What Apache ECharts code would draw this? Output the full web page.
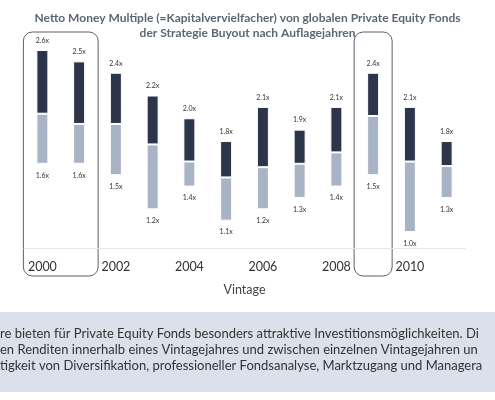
<!DOCTYPE html>
<html><head><meta charset="utf-8">
<script src="https://cdn.jsdelivr.net/npm/echarts@6/dist/echarts.min.js"></script>
<style>html,body{margin:0;padding:0;background:#fff}#main{width:495px;height:400px}</style>
</head><body><div id="main"></div>
<script>
var years = ['2000','2001','2002','2003','2004','2005','2006','2007','2008','2009','2010','2011']
var topVals = [2.6, 2.5, 2.4, 2.2, 2.0, 1.8, 2.1, 1.9, 2.1, 2.4, 2.1, 1.8]
var midVals = [2.04, 1.95, 1.95, 1.77, 1.62, 1.48, 1.57, 1.6, 1.7, 2.02, 1.62, 1.58]
var lowVals = [1.6, 1.6, 1.5, 1.2, 1.4, 1.1, 1.2, 1.3, 1.4, 1.5, 1.0, 1.3]

var myChart = echarts.init(document.getElementById('main'))
var font = 'Lato'
var option = {
	animation: false,
	title: {
		text: 'Netto Money Multiple (=Kapitalvervielfacher) von globalen Private Equity Fonds\nder Strategie Buyout nach Auflagejahren',
		left: 'center',
		top: 6,
		textStyle: { fontFamily: font, fontSize: 12, fontWeight: 'bold', color: '#5d6675', lineHeight: 15 },
	},
	grid: { left: 24, right: 30, top: 50, bottom: 152 },
	xAxis: {
		type: 'category',
		data: years,
		name: 'Vintage',
		nameLocation: 'middle',
		nameGap: 35,
		nameTextStyle: { fontFamily: font, fontSize: 12.5, color: '#444' },
		axisLine: { lineStyle: { color: '#e4e6ea' } },
		axisTick: { show: false },
		axisLabel: { fontFamily: font, fontSize: 12.5, color: '#333', margin: 12 },
	},
	yAxis: { type: 'value', min: 0.86, max: 2.6, show: false },
	series: [
		{
			type: 'bar', stack: 's', barWidth: 12,
			data: lowVals,
			itemStyle: { color: 'transparent' },
		},
		{
			type: 'bar', stack: 's',
			data: midVals.map(function (m, i) { return +(m - lowVals[i]).toFixed(3) }),
			itemStyle: { color: '#a9b3c6', borderColor: '#fff', borderWidth: 1 },
			label: {
				show: true, position: 'bottom', distance: 8,
				fontFamily: font, fontSize: 7, color: '#333',
				formatter: function (p) { return lowVals[p.dataIndex].toFixed(1) + 'x' },
			},
		},
		{
			type: 'bar', stack: 's',
			data: topVals.map(function (t, i) { return +(t - midVals[i]).toFixed(3) }),
			itemStyle: { color: '#2c3549', borderColor: '#fff', borderWidth: 1 },
			label: {
				show: true, position: 'top', distance: 6,
				fontFamily: font, fontSize: 7, color: '#333',
				formatter: function (p) { return topVals[p.dataIndex].toFixed(1) + 'x' },
			},
		},
	],
}
myChart.setOption(option)

// highlight boxes around selected vintages
function box(fromIdx, toIdx) {
	var a = myChart.convertToPixel({ xAxisIndex: 0 }, years[fromIdx])
	var b = myChart.convertToPixel({ xAxisIndex: 0 }, years[toIdx])
	var x0 = a - 19, x1 = b + 19
	return {
		type: 'rect',
		shape: { x: x0, y: 32, width: x1 - x0, height: 244, r: 9 },
		style: { fill: 'none', stroke: '#59606b', lineWidth: 1 },
	}
}
var lines = [
	're bieten für Private Equity Fonds besonders attraktive Investitionsmöglichkeiten. Di',
	'en Renditen innerhalb eines Vintagejahres und zwischen einzelnen Vintagejahren un',
	'tigkeit von Diversifikation, professioneller Fondsanalyse, Marktzugang und Managera',
]
myChart.setOption({
	graphic: [
		box(0, 1),
		box(9, 9),
		{ type: 'rect', shape: { x: 0, y: 312, width: 495, height: 80 }, style: { fill: '#dbe0ea' }, z: -1 },
	].concat(lines.map(function (t, i) {
		return {
			type: 'text', left: 0, top: 327 + i * 16,
			style: { text: t, fontFamily: font, fontSize: 13, fill: '#333' },
		}
	})),
})
</script></body></html>
